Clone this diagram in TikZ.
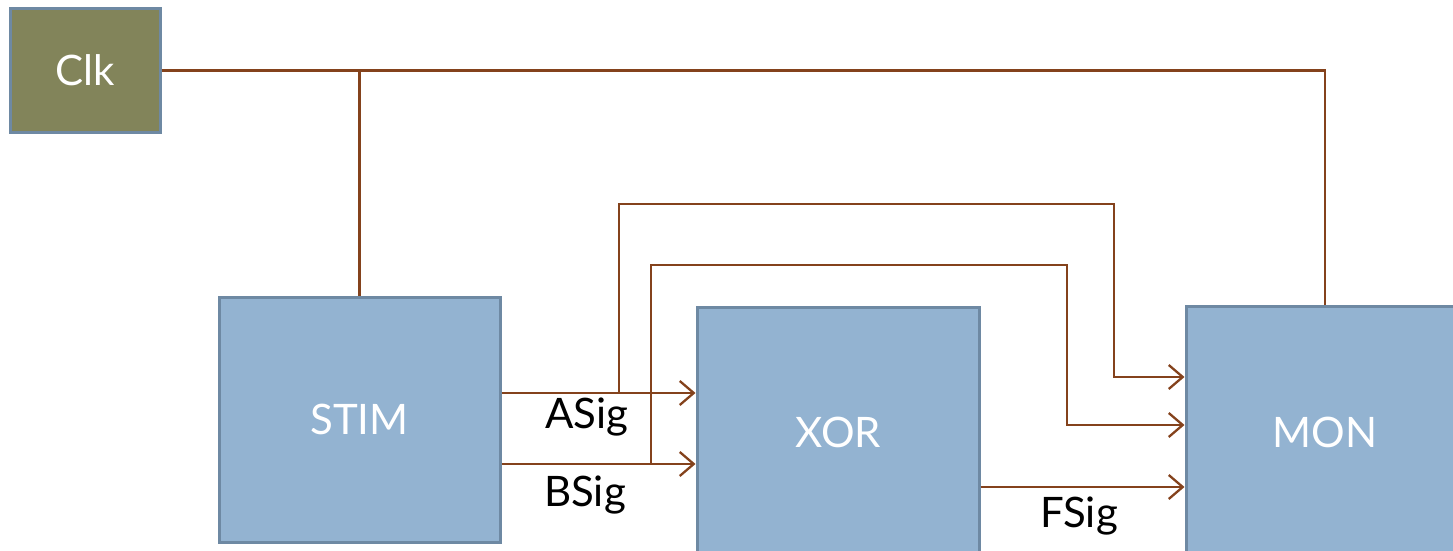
\documentclass[tikz,border=0pt]{standalone}
\usepackage{fontspec}
\setmainfont{Lato}
\usetikzlibrary{arrows.meta}
\definecolor{clkfill}{HTML}{82845A}
\definecolor{boxfill}{HTML}{93B3D1}
\definecolor{boxline}{HTML}{6E89A3}
\definecolor{wirecol}{HTML}{84421C}
\tikzset{
  block/.style={draw=boxline, line width=3pt, fill=boxfill, text=white,
    inner sep=0pt, font=\fontsize{42}{50}\selectfont},
  wire/.style={draw=wirecol, line width=2.3pt},
  sig/.style={wire, -{Straight Barb[length=14pt,width=24pt,line width=2.3pt]}},
  siglabel/.style={font=\fontsize{42}{50}\selectfont, text=black, inner sep=0pt, anchor=base}
}
\begin{document}
\begin{tikzpicture}[x=1pt,y=-1pt]
  \useasboundingbox (0,0) rectangle (1453,551);
  % blocks
  \node[block, fill=clkfill, minimum width=150pt, minimum height=123pt] (clk) at (85,70.5) {Clk};
  \node[block, minimum width=281pt, minimum height=245pt] (stim) at (359.5,419.5) {STIM};
  \node[block, minimum width=282pt, minimum height=250pt] (xor) at (838,432) {XOR};
  \node[block, minimum width=278pt, minimum height=252pt] (mon) at (1325,432) {MON};
  % clock
  \draw[wire] (clk.east) -| (mon.north);
  \draw[wire] (stim.north) -- (stim.north |- clk.east);
  % signals
  \draw[sig] ([yshift=26.5pt]stim.east) -- ([yshift=26.5pt]stim.east -| xor.west);
  \draw[sig] ([yshift=-44.5pt]stim.east) -- ([yshift=-44.5pt]stim.east -| xor.west);
  \draw[sig] ([yshift=-55pt]xor.east) -- ([yshift=-55pt]xor.east -| mon.west);
  \coordinate (atap) at (619,393);
  \coordinate (btap) at (651,464);
  \draw[sig] (atap) |- (1114,204) |- ([yshift=55pt]mon.west);
  \draw[sig] (btap) |- (1067,265) |- ([yshift=7pt]mon.west);
  % labels
  \node[siglabel] (alabel) at (587,428) {ASig};
  \node[siglabel] (blabel) at (585,506) {BSig};
  \node[siglabel] (flabel) at (1079,527) {FSig};
\end{tikzpicture}
\end{document}
